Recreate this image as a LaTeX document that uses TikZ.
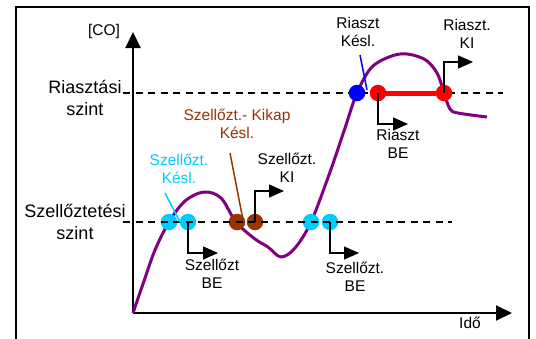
\documentclass[tikz,border=0pt]{standalone}
\usepackage{fontspec}
\setmainfont{Liberation Sans}
\usetikzlibrary{arrows.meta,positioning}

\definecolor{ventcyan}{RGB}{0,204,255}
\definecolor{kikapbrown}{RGB}{153,51,0}
\definecolor{copurple}{RGB}{128,0,128}

\begin{document}
\begin{tikzpicture}[x=1bp, y=-1bp,
	lbl/.style={font=\fontsize{15.5bp}{18.5bp}\selectfont, align=center, inner sep=0pt},
	level/.style={font=\fontsize{18bp}{22bp}\selectfont, align=center, inner sep=0pt},
	dot/.style={circle, inner sep=0pt, minimum size=16.5bp},
	axis/.style={line width=2bp, -{Triangle[length=16bp,width=15bp]}},
	flag/.style={line width=1.5bp, -{Triangle[length=15bp,width=13bp]}},
	thr/.style={line width=1.5bp, dash pattern=on 7bp off 5.5bp},
	ptr/.style={line width=1.5bp}]
	\useasboundingbox (0,0) rectangle (536,338);
	\draw[line width=2bp] (16,345) -- (16,7) -- (529,7) -- (529,345);
	
	% axes
	\coordinate (o) at (133,313);
	\coordinate (ytip) at (133,32);
	\coordinate (xtip) at (512,313);
	\draw[axis] (o) -- (ytip);
	\draw[axis] (o) -- (xtip);
	\node[lbl] (co) at (104,31) {[CO]};
	\node[lbl] (ido) at (470,323) {Idő};
	
	% CO curve
	\draw[copurple, line width=3bp, line join=round] plot[smooth, tension=0.55] coordinates {
		(133,313) (144,281) (155,250) (169,222) (185,201) (204,192) (221,198)
		(236,222) (255,239) (268,247) (281,257) (295,248) (311,222) (330,172)
		(345,128) (357,93) (373,66) (400,54) (424,59) (437,73) (444,93)
		(450,109) (458,113) (487,117)};
	
	% ventilation level
	\node[dot, fill=ventcyan] (v1) at (169,222) {};
	\node[dot, fill=ventcyan] (v2) at (188,222) {};
	\node[dot, fill=kikapbrown] (b1) at (237,222) {};
	\node[dot, fill=kikapbrown] (b2) at (255,222) {};
	\node[dot, fill=ventcyan] (v3) at (311,222) {};
	\node[dot, fill=ventcyan] (v4) at (330,222) {};
	\coordinate (sa) at (123,222);
	\coordinate (sb) at (452,222);
	\draw[thr] (sa) -- (sb);
	\node[level] (sszint) at (75,222) {Szellőztetési\\szint};
	
	% alarm level
	\coordinate (ra) at (123,93);
	\coordinate (rb) at (503,93);
	\draw[thr] (ra) -- (rb);
	\node[level] (rszint) at (85,98) {Riasztási\\szint};
	\node[dot, fill=blue] (a1) at (357,93) {};
	\node[dot, fill=red] (r1) at (378,93) {};
	\node[dot, fill=red] (r2) at (444,93) {};
	\draw[red, line width=5bp] (r1) -- (r2);
	
	% switching flags
	\coordinate (f1) at (218,253);
	\coordinate (f2) at (284,191);
	\coordinate (f3) at (359,253);
	\coordinate (f4) at (408,124);
	\coordinate (f5) at (473,62);
	\draw[flag] (v2.center) |- (f1);
	\draw[flag] (b2.center) |- (f2);
	\draw[flag] (v4.center) |- (f3);
	\draw[flag] (r1.center) |- (f4);
	\draw[flag] (r2.center) |- (f5);
	
	\node[lbl] (sbe1) at (212,274) {Szellőzt\\BE};
	\node[lbl] (sbe2) at (355,277) {Szellőzt.\\BE};
	\node[lbl] (ski) at (287,168) {Szellőzt.\\KI};
	\node[lbl] (rbe) at (398,144) {Riaszt\\BE};
	\node[lbl] (rki) at (467,34) {Riaszt.\\KI};
	\node[lbl] (rk) at (358,32) {Riaszt\\Késl.};
	\node[lbl, text=ventcyan] (sk) at (179,169) {Szellőzt.\\Késl.};
	\node[lbl, text=kikapbrown] (kk) at (237,124) {Szellőzt.- Kikap\\Késl.};
	
	% delay pointers
	\coordinate (p1) at (165,193);
	\coordinate (q1) at (180,222);
	\coordinate (p2) at (230,153);
	\coordinate (q2) at (243,220);
	\coordinate (p3) at (360,55);
	\coordinate (q3) at (367,90);
	\draw[ptr, ventcyan] (p1) -- (q1);
	\draw[ptr, kikapbrown] (p2) -- (q2);
	\draw[ptr, blue] (p3) -- (q3);
\end{tikzpicture}
\end{document}
